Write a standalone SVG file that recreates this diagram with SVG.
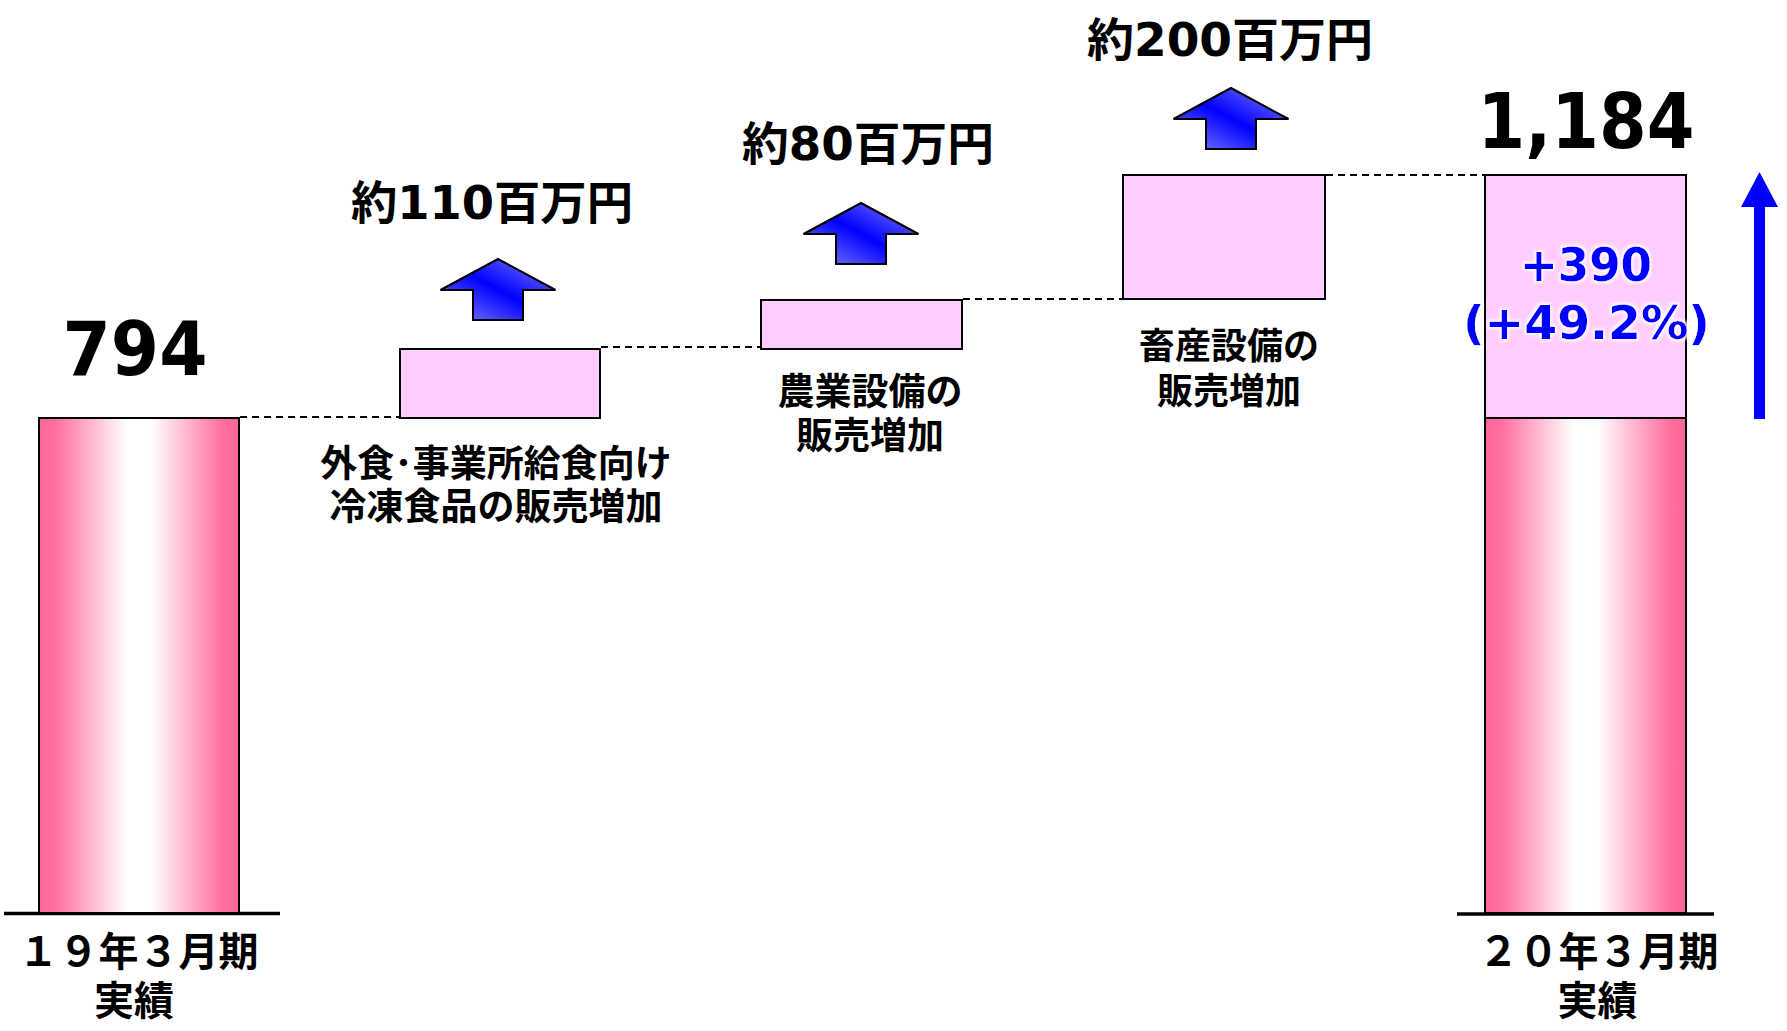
<svg xmlns="http://www.w3.org/2000/svg" width="1787" height="1031" viewBox="0 0 1787 1031">
<style>
.box{fill:#FFCCFF;stroke:#000;stroke-width:2}
.bar{fill:url(#barGrad);stroke:#000;stroke-width:2}
.dash{stroke:#000;stroke-width:2;stroke-dasharray:7 5;fill:none}
.base{stroke:#000;stroke-width:3.5}
.num{font-family:"DejaVu Sans","Noto Sans CJK JP",sans-serif;font-weight:bold;fill:#000;text-anchor:middle}
.jp{font-family:"Noto Sans CJK JP",sans-serif;font-weight:bold;fill:#000;text-anchor:middle}
.amt{font-family:"DejaVu Sans","Noto Sans CJK JP",sans-serif;font-weight:bold;fill:#000;text-anchor:middle;font-size:46px}
.blue{font-family:"DejaVu Sans",sans-serif;font-weight:bold;fill:#0000FF;text-anchor:middle;font-size:46px}
.uparrow{fill:url(#arrowGrad);stroke:#000;stroke-width:2;stroke-linejoin:miter}
</style>
<defs>
<linearGradient id="barGrad" x1="0" y1="0" x2="1" y2="0">
<stop offset="0" stop-color="#FF6699"/>
<stop offset="0.08" stop-color="#FF6E9E"/>
<stop offset="0.44" stop-color="#FFFFFF"/>
<stop offset="0.56" stop-color="#FFFFFF"/>
<stop offset="0.92" stop-color="#FF6E9E"/>
<stop offset="1" stop-color="#FF6699"/>
</linearGradient>
<linearGradient id="arrowGrad" x1="0" y1="1" x2="1" y2="0">
<stop offset="0" stop-color="#8888FF"/>
<stop offset="0.5" stop-color="#0000FF"/>
<stop offset="1" stop-color="#8888FF"/>
</linearGradient>
<path id="upArrow" d="M0,0 L57.5,31 L25,31 L25,61 L-25,61 L-25,31 L-57.5,31 Z"/>
<filter id="glow" x="-10%" y="-20%" width="120%" height="140%">
<feMorphology in="SourceAlpha" operator="dilate" radius="2" result="d"/>
<feGaussianBlur in="d" stdDeviation="1.5" result="b"/>
<feFlood flood-color="#FFFFFF" flood-opacity="0.9"/>
<feComposite in2="b" operator="in" result="w"/>
<feMerge><feMergeNode in="w"/><feMergeNode in="SourceGraphic"/></feMerge>
</filter>
</defs>

<g id="connectors">
<line class="dash" x1="240" y1="417" x2="400" y2="417"/>
<line class="dash" x1="601" y1="347" x2="761" y2="347"/>
<line class="dash" x1="963" y1="299" x2="1123" y2="299"/>
<line class="dash" x1="1326" y1="175" x2="1485" y2="175"/>
</g>

<g id="baseline-left"><line class="base" x1="4" y1="913.5" x2="280" y2="913.5"/></g>
<g id="baseline-right"><line class="base" x1="1457" y1="914" x2="1714" y2="914"/></g>

<g id="bar-fy19">
<rect class="bar" x="39" y="418" width="200" height="495"/>
<text class="num" x="135" y="375" font-size="74" textLength="145" lengthAdjust="spacingAndGlyphs">794</text>
<text class="jp" x="138.5" y="966" font-size="40">１９年３月期</text>
<text class="jp" x="134" y="1015" font-size="40">実績</text>
</g>

<g id="step-food">
<rect class="box" x="400" y="349" width="200" height="69"/>
<use href="#upArrow" class="uparrow" x="498" y="259"/>
<text class="amt" x="492" y="219" textLength="282" lengthAdjust="spacingAndGlyphs">約110百万円</text>
<text class="jp" x="496" y="477" font-size="37">外食･事業所給食向け</text>
<text class="jp" x="496" y="520" font-size="37">冷凍食品の販売増加</text>
</g>

<g id="step-agri">
<rect class="box" x="761" y="300" width="201" height="49"/>
<use href="#upArrow" class="uparrow" x="861" y="203"/>
<text class="amt" x="868" y="160" textLength="252" lengthAdjust="spacingAndGlyphs">約80百万円</text>
<text class="jp" x="870" y="405" font-size="37">農業設備の</text>
<text class="jp" x="870" y="449" font-size="37">販売増加</text>
</g>

<g id="step-livestock">
<rect class="box" x="1123" y="175" width="202" height="124"/>
<use href="#upArrow" class="uparrow" x="1231" y="88"/>
<text class="amt" x="1230" y="56" textLength="286" lengthAdjust="spacingAndGlyphs">約200百万円</text>
<text class="jp" x="1229" y="359" font-size="36">畜産設備の</text>
<text class="jp" x="1229" y="404" font-size="36">販売増加</text>
</g>

<g id="bar-fy20">
<rect class="bar" x="1485" y="418" width="201" height="495"/>
<rect class="box" x="1485" y="175" width="201" height="243"/>
<text class="num" x="1586" y="148" font-size="76" textLength="217" lengthAdjust="spacingAndGlyphs">1,184</text>
<g filter="url(#glow)">
<text class="blue" x="1586" y="281" textLength="132" lengthAdjust="spacingAndGlyphs">+390</text>
<text class="blue" x="1586.5" y="339" textLength="247" lengthAdjust="spacingAndGlyphs">(+49.2%)</text>
</g>
<text class="jp" x="1598.5" y="966" font-size="40">２０年３月期</text>
<text class="jp" x="1597.5" y="1015" font-size="40">実績</text>
</g>

<g id="growth-arrow">
<rect x="1754" y="205" width="11" height="214" fill="#0000FF"/>
<polygon points="1741,207 1759.5,172 1778,207" fill="#0000FF"/>
</g>
</svg>
